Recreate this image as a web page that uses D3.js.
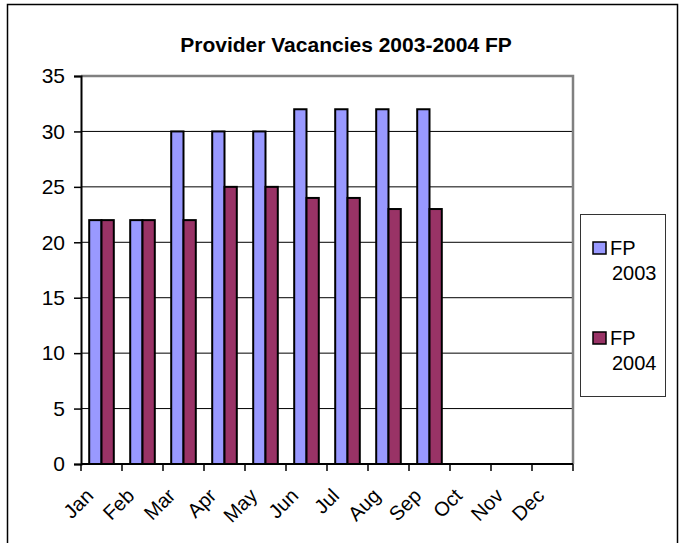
<!DOCTYPE html>
<html>
<head>
<meta charset="utf-8">
<script src="https://cdn.jsdelivr.net/npm/d3@7"></script>
<style>
  body { margin: 0; background: #fff; }
  svg { font-family: "Liberation Sans", Arial, sans-serif; }
</style>
</head>
<body>
<svg id="chart"></svg>
<script>
let months = ['Jan', 'Feb', 'Mar', 'Apr', 'May', 'Jun', 'Jul', 'Aug', 'Sep', 'Oct', 'Nov', 'Dec'];
let series = ['FP 2003', 'FP 2004'];
let fp2003 = [22, 22, 30, 30, 30, 32, 32, 32, 32];
let fp2004 = [22, 22, 22, 25, 25, 24, 24, 23, 23];
let yTicks = [0, 5, 10, 15, 20, 25, 30, 35];
let colors = ['#9999ff', '#993366'];

let width = 679;
let height = 543;
let plot = { left: 81, right: 573, top: 76, bottom: 464 };

let svg = d3.select('#chart')
            .attr('width', width)
            .attr('height', height);

// outer chart border
svg.append('rect')
    .attr('x', 7.5).attr('y', 4.5)
    .attr('width', 670).attr('height', 560)
    .attr('fill', 'none')
    .attr('stroke', '#000')
    .attr('stroke-width', 1.5);

svg.append('text')
    .text('Provider Vacancies 2003-2004 FP')
    .attr('x', 346).attr('y', 52)
    .attr('text-anchor', 'middle')
    .style('font-size', '21px')
    .style('font-weight', 'bold');

let xScale = d3.scaleBand()
                .domain(months)
                .range([plot.left, plot.right])
                .paddingInner(0.4)
                .paddingOuter(0.2);

let xSub = d3.scaleBand()
                .domain(series)
                .range([0, xScale.bandwidth()]);

let yScale = d3.scaleLinear()
                .domain([0, 35])
                .range([plot.bottom, plot.top]);

// gridlines
svg.append('g')
    .selectAll('line')
    .data(yTicks.slice(1, -1))
    .enter()
    .append('line')
        .attr('x1', plot.left).attr('x2', plot.right)
        .attr('y1', d => yScale(d)).attr('y2', d => yScale(d))
        .attr('stroke', '#000')
        .attr('stroke-width', 1);

// plot frame top & right
svg.append('path')
    .attr('d', `M${plot.left},${plot.top}H${plot.right}V${plot.bottom}`)
    .attr('fill', 'none')
    .attr('stroke', '#808080')
    .attr('stroke-width', 2.5);

let rows = months.map((m, i) => ({ month: m, values: [fp2003[i], fp2004[i]] }));

let groups = svg.append('g')
            .selectAll('.bar')
            .data(rows)
            .enter()
            .append('g')
                .classed('bar', true)
                .attr('transform', d => `translate(${xScale(d.month)},0)`);

groups.selectAll('rect')
    .data(d => d.values.map((v, j) => ({ key: series[j], value: v, color: colors[j] }))
                       .filter(v => v.value !== undefined))
    .enter()
    .append('rect')
        .attr('x', d => xSub(d.key))
        .attr('y', d => yScale(d.value))
        .attr('width', xSub.bandwidth())
        .attr('height', d => plot.bottom - yScale(d.value))
        .attr('fill', d => d.color)
        .attr('stroke', '#000')
        .attr('stroke-width', 2);

// y axis
let yAxis = svg.append('g')
    .attr('transform', `translate(${plot.left},0)`)
    .call(d3.axisLeft(yScale).tickValues(yTicks).tickSize(7).tickPadding(9));
yAxis.select('.domain').attr('stroke-width', 2);
yAxis.selectAll('line').attr('stroke-width', 1.5);
yAxis.selectAll('text')
    .style('font-size', '21px')
    .style('font-family', '"Liberation Sans", Arial, sans-serif')
    .attr('fill', '#000');

// x axis: ticks on category boundaries
let xAxisG = svg.append('g')
    .attr('transform', `translate(0,${plot.bottom})`);
xAxisG.append('line')
    .attr('x1', plot.left).attr('x2', plot.right)
    .attr('stroke', '#000').attr('stroke-width', 2);
let step = xScale.step();
xAxisG.selectAll('.tick')
    .data(d3.range(months.length + 1))
    .enter()
    .append('line')
        .attr('x1', i => plot.left + i * step).attr('x2', i => plot.left + i * step)
        .attr('y1', 0).attr('y2', 7)
        .attr('stroke', '#000').attr('stroke-width', 1.5);
xAxisG.selectAll('.lbl')
    .data(months)
    .enter()
    .append('text')
        .text(d => d)
        .attr('text-anchor', 'end')
        .attr('transform', d => `translate(${xScale(d) + xScale.bandwidth() / 2 - 7},${33}) rotate(-45)`)
        .style('font-size', '20px');

// legend
let legend = svg.append('g');
legend.append('rect')
    .attr('x', 580.5).attr('y', 214.5)
    .attr('width', 85).attr('height', 182)
    .attr('fill', '#fff')
    .attr('stroke', '#333')
    .attr('stroke-width', 1);

let legendItems = legend.selectAll('.item')
    .data(series)
    .enter()
    .append('g')
        .attr('transform', (d, i) => `translate(593,${242 + i * 90})`);

legendItems.append('rect')
    .attr('width', 13).attr('height', 12)
    .attr('fill', (d, i) => colors[i])
    .attr('stroke', '#000')
    .attr('stroke-width', 1.5);

legendItems.append('text')
    .attr('x', 17).attr('y', 13)
    .style('font-size', '20px')
    .text(d => d.split(' ')[0]);

legendItems.append('text')
    .attr('x', 19).attr('y', 38)
    .style('font-size', '20px')
    .text(d => d.split(' ')[1]);
</script>
</body>
</html>
